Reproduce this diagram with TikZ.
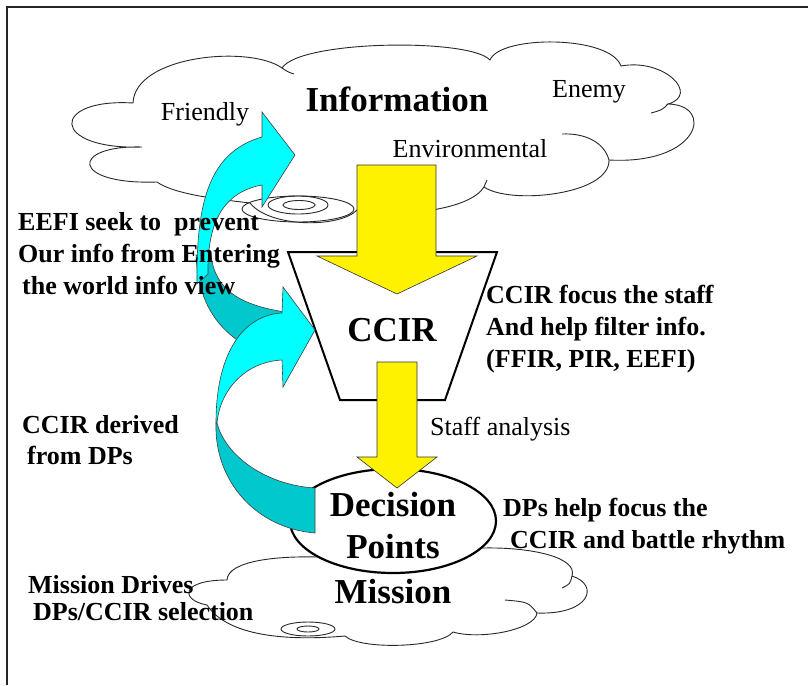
\documentclass[tikz,border=0pt]{standalone}
\usepackage{fontspec}
\setmainfont{Liberation Serif}
\usetikzlibrary{shapes.geometric}
\definecolor{aqua}{RGB}{0,255,255}
\definecolor{aquadark}{RGB}{0,200,205}
\definecolor{cloudgray}{RGB}{40,40,40}

\begin{document}
\begin{tikzpicture}[x=1pt, y=-1pt,
  cloudline/.style={draw=cloudgray, line width=0.9pt, fill=white},
  stub/.style={draw=cloudgray, line width=0.9pt},
  funnel/.style={draw=black, line width=2pt, fill=white},
  decision/.style={ellipse, draw=black, line width=2.2pt, fill=white,
    minimum width=206pt, minimum height=104pt, inner sep=0pt},
  yarrow/.style={fill=yellow, draw=black!80, line width=0.6pt},
  front/.style={fill=aqua, draw=black!75, line width=0.6pt},
  back/.style={fill=aquadark, draw=black!75, line width=0.6pt},
  word/.style={font=\fontsize{26}{32}\selectfont, inner sep=0pt},
  bigword/.style={font=\fontsize{35}{42}\selectfont\bfseries, inner sep=0pt, align=center},
  note/.style={font=\fontsize{26}{32}\selectfont\bfseries, align=left, inner sep=0pt, anchor=west}
]
  \useasboundingbox (0,0) rectangle (808,685);
  \draw[line width=2.5pt, draw=black!85] (7,685) -- (7,7) -- (808,7);

  % information cloud
  \draw[cloudline] (142,147) .. controls (50,150) and (50,98) .. (133,103)
    .. controls (135,55) and (250,45) .. (282,68)
    .. controls (300,40) and (470,38) .. (490,60)
    .. controls (500,35) and (610,35) .. (621,66)
    .. controls (665,58) and (700,95) .. (668,104)
    .. controls (715,105) and (700,165) .. (609,160)
    .. controls (610,195) and (510,205) .. (484,187)
    .. controls (470,210) and (400,218) .. (357,210)
    .. controls (340,228) and (270,228) .. (250,203)
    .. controls (225,200) and (175,195) .. (157,182)
    .. controls (70,185) and (70,145) .. (142,147) -- cycle;
  \draw[stub] (282,68) .. controls (288,72) .. (294,74);
  \draw[stub] (668,104) .. controls (662,110) .. (651,113);
  \draw[stub] (609,160) .. controls (604,142) and (585,133) .. (562,134);
  \draw[stub] (484,187) -- (487,180);
  \draw[stub] (298,209) ellipse [x radius=56, y radius=13];
  \draw[stub] (298,205) ellipse [x radius=30, y radius=9];
  \draw[stub] (299,205) ellipse [x radius=16, y radius=4.5];

  % mission cloud
  \draw[cloudline] (227,580) .. controls (228,560) and (280,556) .. (317,557)
    -- (483,548)
    .. controls (530,547) and (578,557) .. (572,576)
    .. controls (600,585) and (590,615) .. (537,613)
    .. controls (535,630) and (480,640) .. (453,632)
    .. controls (440,648) and (360,650) .. (345,636)
    .. controls (300,640) and (230,640) .. (207,605)
    .. controls (180,600) and (180,580) .. (227,580) -- cycle;
  \draw[stub] (572,576) .. controls (570,584) .. (562,588);
  \draw[stub] (537,613) .. controls (528,602) .. (505,600);
  \draw[stub] (308,629) ellipse [x radius=27, y radius=7];
  \draw[stub] (308,629) ellipse [x radius=11, y radius=3];

  % CCIR filter and decision points
  \draw[funnel] (288,252) -- (497,252) -- (445,400) -- (340,400) -- cycle;
  \node[decision] (dp) at (393,521) {};

  % yellow flow
  \draw[yarrow] (357,165) -- (436,165) -- (436,256) -- (477,256) -- (397,294)
    -- (317,256) -- (357,256) -- cycle;
  \draw[yarrow] (377,362) -- (417,362) -- (417,457) -- (437,457) -- (397,488)
    -- (357,457) -- (377,457) -- cycle;

  % curved arrows
  \draw[back] (196,255) .. controls (198,300) and (215,325) .. (240,342)
    -- (285,312) .. controls (240,305) and (215,290) .. (211,255) -- cycle;
  \draw[front] (197,284) .. controls (196,200) and (210,152) .. (262,137)
    -- (262,112) -- (295,155) -- (262,207) -- (262,185)
    .. controls (225,192) and (207,220) .. (208,274) -- cycle;
  \draw[back] (216,423) .. controls (214,480) and (255,528) .. (315,533)
    -- (315,488) .. controls (265,485) and (225,455) .. (217,423) -- cycle;
  \draw[front] (216,423) .. controls (216,350) and (245,315) .. (282,313)
    -- (283,287) -- (315,330) -- (283,387) -- (282,360)
    .. controls (245,362) and (220,390) .. (217,423) -- cycle;

  % labels
  \node[bigword] (information) at (397,99) {Information};
  \node[word] (friendly) at (205,114) {Friendly};
  \node[word] (enemy) at (589,92) {Enemy};
  \node[word] (environmental) at (470,149) {Environmental};
  \node[note] (eefi) at (18,254) {EEFI seek to\ \ prevent\\Our info from Entering\\\hspace{4pt}the world info view};
  \node[bigword] (ccir) at (392,330) {CCIR};
  \node[note] (ccirnote) at (486,329) {CCIR focus the staff\\And help filter info.\\(FFIR, PIR, EEFI)};
  \node[word, anchor=west] (staff) at (430,429) {Staff analysis};
  \node[note, font=\fontsize{26}{31}\selectfont\bfseries] (derived) at (22,440) {CCIR derived\\\hspace{5pt}from DPs};
  \node[bigword] (dptext) at (393,526) {Decision\\Points};
  \node[bigword] (mission) at (393,592) {Mission};
  \node[note] (dpnote) at (503,526) {DPs help focus the\\\hspace{7pt}CCIR and battle rhythm};
  \node[note, font=\fontsize{26}{27}\selectfont\bfseries] (drives) at (28,598) {Mission Drives\\\hspace{5pt}DPs/CCIR selection};
\end{tikzpicture}
\end{document}
